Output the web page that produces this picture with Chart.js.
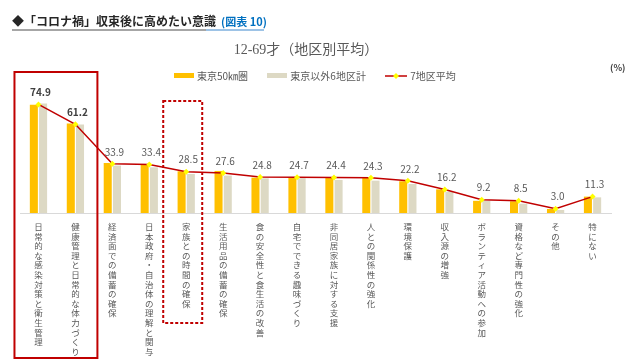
<!DOCTYPE html>
<html>
<head>
<meta charset="utf-8">
<script src="https://cdn.jsdelivr.net/npm/chart.js@4/dist/chart.umd.min.js"></script>
<style>
  body { margin: 0; background: #fff; }
  #wrap { position: relative; width: 640px; height: 362px; font-family: "Noto Sans CJK JP", sans-serif; }
  #chart { position: absolute; left: 0; top: 0; }
  .head { position: absolute; left: 12px; top: 12px; font-size: 12px; font-weight: bold; color: #262626; white-space: nowrap; }
  .head span { font-size: 11px; color: #0070C0; margin-left: 5px; }
  .uline1 { position: absolute; left: 12px; top: 29px; width: 194px; height: 2px; background: #a6a6a6; }
  .uline2 { position: absolute; left: 206px; top: 29px; width: 58px; height: 2px; background: #9dc3e6; }
  .title { position: absolute; left: 0; width: 612px; top: 38px; text-align: center; font-size: 14px; color: #595959;
           font-family: "Liberation Serif", "Noto Sans CJK JP", serif; }
  .legend { position: absolute; top: 66px; left: 174px; font-size: 10px; color: #595959; white-space: nowrap; }
  .legend i { display: inline-block; vertical-align: middle; margin-right: 3px; }
  .legend b { font-weight: normal; margin-right: 17px; vertical-align: middle; }
  .pct { position: absolute; left: 610px; top: 61px; font-size: 9px; font-weight: bold; color: #404040; }
</style>
</head>
<body>
<div id="wrap">
  <canvas id="chart" width="640" height="362"></canvas>
  <div class="head">◆「コロナ禍」収束後に高めたい意識<span>(図表 10)</span></div>
  <div class="uline1"></div><div class="uline2"></div>
  <div class="title">12-69才（地区別平均）</div>
  <div class="legend">
    <i style="width:20px;height:5px;background:#FFC000"></i><b>東京50㎞圏</b>
    <i style="width:20px;height:5px;background:#DDD9C4"></i><b>東京以外6地区計</b>
    <i><svg width="22" height="8"><line x1="0" y1="4" x2="22" y2="4" stroke="#C00000" stroke-width="1.5"/><polygon points="11,1 14,4 11,7 8,4" fill="#FFFF00"/></svg></i><b>7地区平均</b>
  </div>
  <div class="pct">(%)</div>
</div>
<script>
const categories = [
  '日常的な感染対策と衛生管理', '健康管理と日常的な体力づくり', '経済面での備蓄の確保', '日本政府・自治体の理解と関与',
  '家族との時間の確保', '生活用品の備蓄の確保', '食の安全性と食生活の改善', '自宅でできる趣味づくり',
  '非同居家族に対する支援', '人との関係性の強化', '環境保護', '収入源の増強',
  'ボランティア活動への参加', '資格など専門性の強化', 'その他', '特にない'
];
const tokyo50 = [74.7, 61.7, 34.5, 33.5, 28.8, 29.0, 24.4, 24.5, 24.3, 24.3, 21.9, 16.3, 8.4, 8.1, 2.8, 11.3];
const otherSix = [75.5, 61.0, 32.7, 31.5, 26.9, 25.8, 23.9, 24.0, 22.8, 22.3, 20.0, 14.7, 8.4, 6.4, 2.1, 10.8];
const avg7 = [74.9, 61.2, 33.9, 33.4, 28.5, 27.6, 24.8, 24.7, 24.4, 24.3, 22.2, 16.2, 9.2, 8.5, 3.0, 11.3];

// value labels over the line + the red highlight boxes
const extras = {
  id: 'extras',
  afterDatasetsDraw(chart) {
    const ctx = chart.ctx;
    const x = chart.scales.x;
    const meta = chart.getDatasetMeta(0);
    ctx.save();
    ctx.textAlign = 'center';
    ctx.textBaseline = 'middle';
    meta.data.forEach((pt, i) => {
      ctx.font = (i < 2 ? 'bold ' : '') + '10px "Noto Sans CJK JP", sans-serif';
      ctx.fillStyle = i < 2 ? '#404040' : '#595959';
      ctx.fillText(avg7[i].toFixed(1), pt.x + 2, pt.y - 12);
    });

    ctx.strokeStyle = '#C00000';
    ctx.lineWidth = 2;
    const l = x.getPixelForValue(0) - 24, r = x.getPixelForValue(1) + 22;
    ctx.strokeRect(l, 72, r - l, 286);

    ctx.setLineDash([3, 2]);
    const c = x.getPixelForValue(4);
    ctx.strokeRect(c - 23, 101, 39, 222);
    ctx.restore();
  }
};

new Chart(document.getElementById('chart'), {
  type: 'bar',
  data: {
    labels: categories.map(s => s.split('')),
    datasets: [{
      type: 'line',
      label: '7地区平均',
      data: avg7,
      borderColor: '#C00000',
      borderWidth: 1.5,
      pointStyle: 'rectRot',
      pointRadius: 3,
      pointBackgroundColor: '#FFFF00',
      pointBorderWidth: 0,
      tension: 0,
      order: 0
    }, {
      label: '東京50㎞圏',
      data: tokyo50,
      backgroundColor: '#FFC000',
      categoryPercentage: 0.5,
      barPercentage: 0.87,
      order: 1
    }, {
      label: '東京以外6地区計',
      data: otherSix,
      backgroundColor: '#DDD9C4',
      categoryPercentage: 0.5,
      barPercentage: 0.87,
      order: 1
    }]
  },
  options: {
    responsive: false,
    animation: false,
    layout: { padding: { left: 20, right: 29, top: 97, bottom: 0 } },
    scales: {
      x: {
        grid: { display: false, drawTicks: false },
        border: { display: true, color: '#D9D9D9', width: 1 },
        ticks: {
          color: '#595959',
          autoSkip: false,
          maxRotation: 0,
          minRotation: 0,
          padding: 9,
          font: { family: '"Noto Sans CJK JP", sans-serif', size: 8.5, lineHeight: 1.13 }
        },
        afterFit(scale) { scale.height = 149; }
      },
      y: { display: false, min: 0, max: 80 }
    },
    plugins: {
      legend: { display: false },
      tooltip: { enabled: false }
    }
  },
  plugins: [extras]
});
</script>
</body>
</html>
